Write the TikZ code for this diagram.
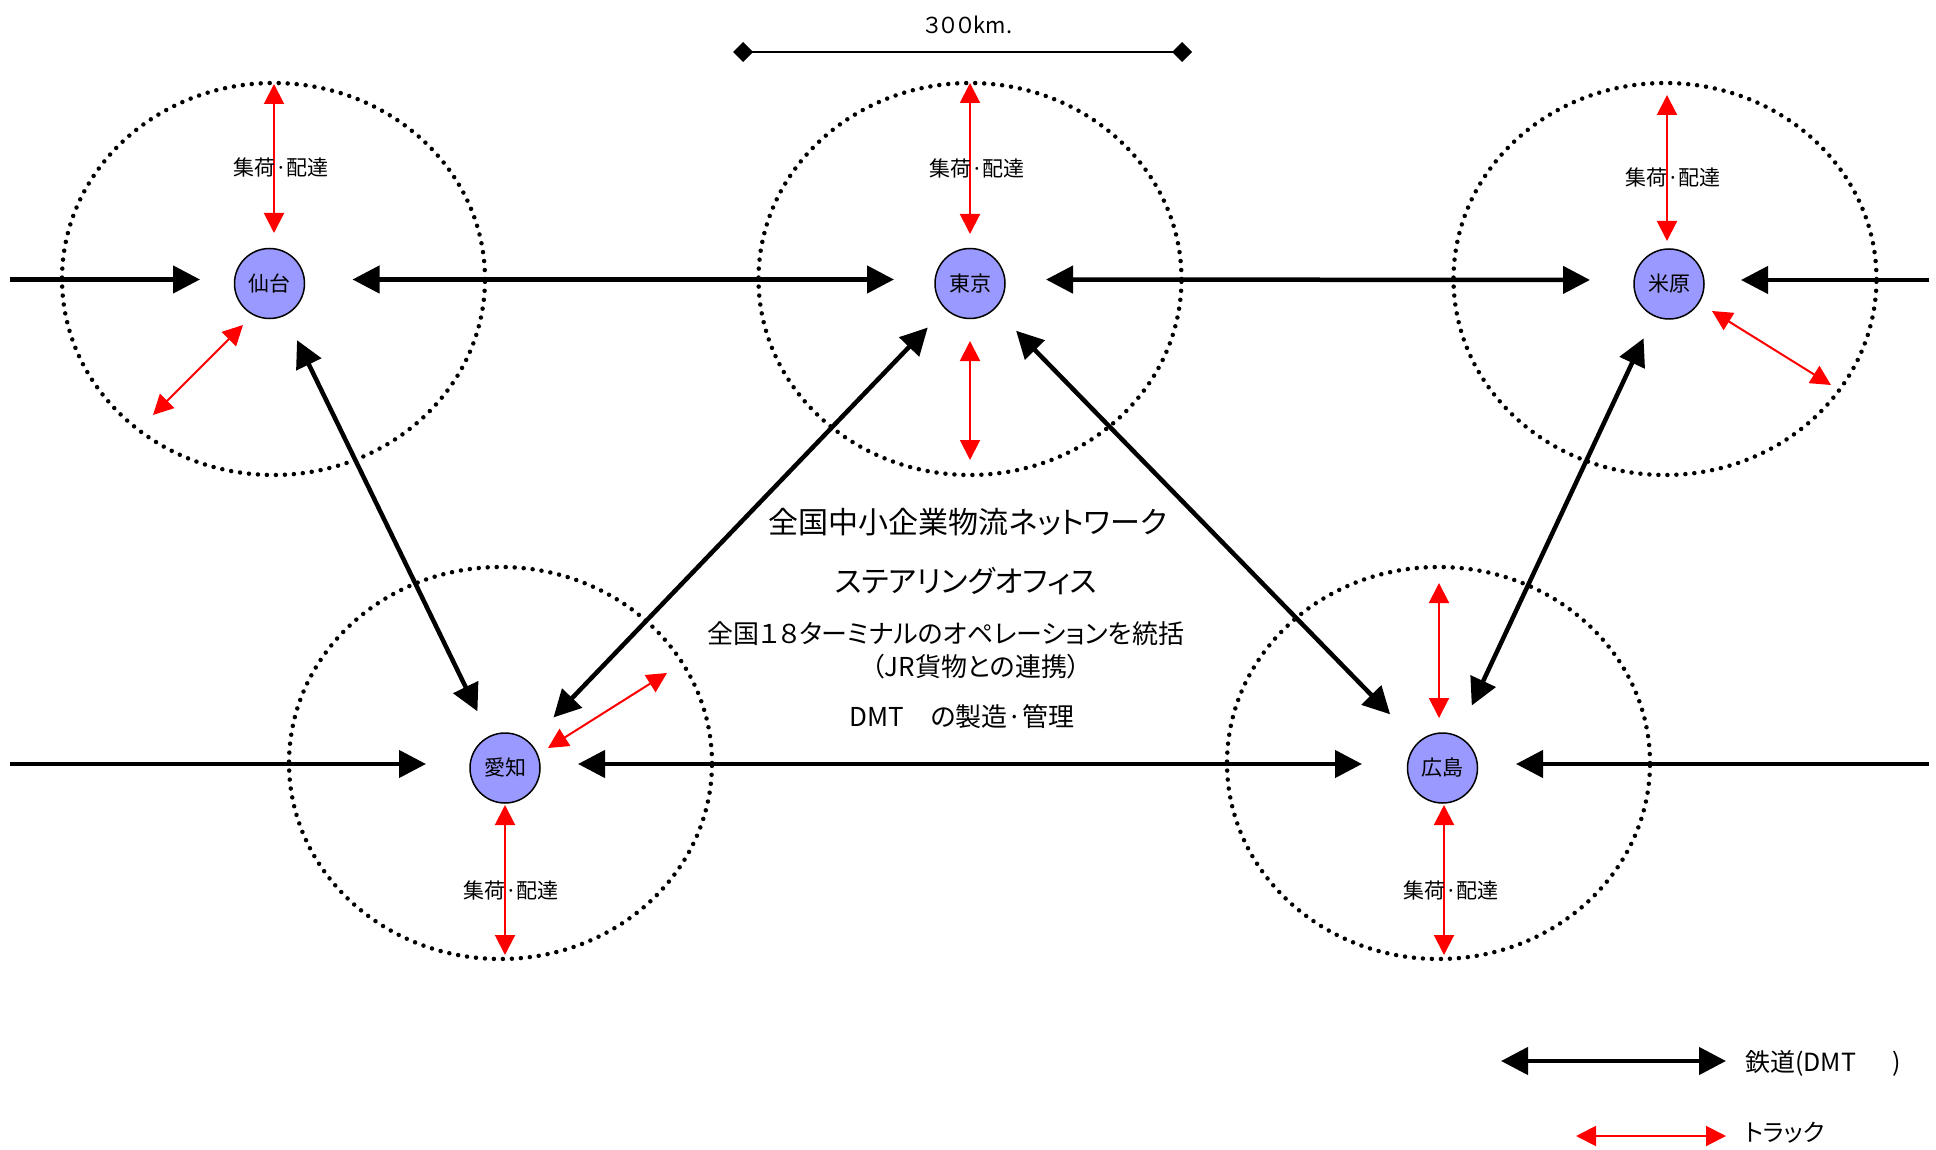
\documentclass[tikz,border=0pt]{standalone}
\usepackage{fontspec}
\setmainfont{Noto Sans CJK JP}[RawFeature=+palt]
\usetikzlibrary{arrows.meta}
\definecolor{nodefill}{RGB}{153,153,255}
\definecolor{truckred}{RGB}{255,0,0}
\begin{document}
\begin{tikzpicture}[x=1pt,y=-1pt,
  city/.style={circle,draw=black,line width=1.5pt,fill=nodefill,minimum size=70pt,inner sep=0pt,outer sep=0pt,font=\fontsize{21}{24}\selectfont},
  area/.style={draw=black,line width=4.5pt,dash pattern=on 0pt off 9pt,line cap=round},
  rail/.style={draw=black,line width=4.5pt,{Triangle[length=27pt,width=27pt]}-{Triangle[length=27pt,width=27pt]}},
  railin/.style={draw=black,line width=4.5pt,-{Triangle[length=27pt,width=27pt]}},
  lift/.style={transform canvas={yshift=4pt}},
  truck/.style={draw=truckred,line width=2pt,{Triangle[length=20pt,width=20pt]}-{Triangle[length=20pt,width=20pt]}},
  lbl/.style={inner sep=0pt,font=\fontsize{21}{24}\selectfont},
  big/.style={inner sep=0pt,font=\fontsize{30}{34}\selectfont},
  mid/.style={inner sep=0pt,font=\fontsize{26}{30}\selectfont},
]
\useasboundingbox[fill=white] (0,0) rectangle (1936,1150);

% service areas
\draw[area] (273.5,279) ellipse [x radius=211.5pt, y radius=196pt];
\draw[area] (970,279) ellipse [x radius=211.5pt, y radius=196pt];
\draw[area] (1665,279) ellipse [x radius=211.5pt, y radius=196pt];
\draw[area] (500.5,763) ellipse [x radius=211.5pt, y radius=196pt];
\draw[area] (1438.5,763) ellipse [x radius=211.5pt, y radius=196pt];

% cities
\node[city] (S) at (269.5,283.5) {仙台};
\node[city] (T) at (970,283.5) {東京};
\node[city] (M) at (1669,284) {米原};
\node[city] (A) at (505,768) {愛知};
\node[city] (H) at (1442.5,768) {広島};

% rail (DMT)
\coordinate (inS) at (10,283.5);
\coordinate (inM) at (1929,284);
\coordinate (inA) at (10,768);
\coordinate (inH) at (1929,768);
\draw[railin,lift,shorten >=34.5pt] (inS) -- (S);
\draw[railin,lift,shorten >=37pt] (inM) -- (M);
\draw[railin,lift,shorten >=44pt] (inA) -- (A);
\draw[railin,lift,shorten >=38.5pt] (inH) -- (H);
\draw[rail,lift,shorten <=48pt,shorten >=41pt] (S) -- (T);
\draw[rail,lift,shorten <=41pt,shorten >=44pt] (T) -- (M);
\draw[rail,lift,shorten <=38pt,shorten >=45.5pt] (A) -- (H);
\draw[rail,shorten <=28pt,shorten >=28pt] (S) -- (A);
\draw[rail,shorten <=26pt,shorten >=35pt] (T) -- (A);
\draw[rail,shorten <=31pt,shorten >=40pt] (T) -- (H);
\draw[rail,shorten <=25pt,shorten >=34pt] (M) -- (H);

% trucks
\coordinate (s1a) at (274,84);   \coordinate (s1b) at (274,233);
\coordinate (s2a) at (243,325);  \coordinate (s2b) at (153,415);
\coordinate (t1a) at (970,83);   \coordinate (t1b) at (970,234);
\coordinate (t2a) at (970,341);  \coordinate (t2b) at (970,460);
\coordinate (m1a) at (1667,95);  \coordinate (m1b) at (1667,241);
\coordinate (m2a) at (1712,311); \coordinate (m2b) at (1831,385);
\coordinate (a1a) at (548,748);  \coordinate (a1b) at (667,673);
\coordinate (a2a) at (505,805);  \coordinate (a2b) at (505,955);
\coordinate (h1a) at (1439,583); \coordinate (h1b) at (1439,718);
\coordinate (h2a) at (1444,805); \coordinate (h2b) at (1444,955);
\draw[truck] (s1a) -- (s1b);
\draw[truck] (s2a) -- (s2b);
\draw[truck] (t1a) -- (t1b);
\draw[truck] (t2a) -- (t2b);
\draw[truck] (m1a) -- (m1b);
\draw[truck] (m2a) -- (m2b);
\draw[truck] (a1a) -- (a1b);
\draw[truck] (a2a) -- (a2b);
\draw[truck] (h1a) -- (h1b);
\draw[truck] (h2a) -- (h2b);

% pickup/delivery labels
\node[lbl] (lS) at (281,167) {集荷·配達};
\node[lbl] (lT) at (977,168) {集荷·配達};
\node[lbl] (lM) at (1673,177) {集荷·配達};
\node[lbl] (lA) at (511,890) {集荷·配達};
\node[lbl] (lH) at (1451,890) {集荷·配達};

% central text
\node[big] (c1) at (968,522) {全国中小企業物流ネットワーク};
\node[big] (c2) at (966,581) {ステアリングオフィス};
\node[mid] (c3) at (946,634) {全国１８ターミナルのオペレーションを統括};
\node[mid] (c4) at (976,667) {（JR貨物との連携）};
\node[mid] (c5) at (962,717) {DMT　の製造·管理};

% scale bar
\node[inner sep=0pt,font=\fontsize{22}{26}\selectfont] (sc) at (968,25) {３００km.};
\coordinate (sb1) at (733,52);
\coordinate (sb2) at (1192,52);
\draw[line width=2pt,{Diamond[length=20pt,width=20pt]}-{Diamond[length=20pt,width=20pt]}] (sb1) -- (sb2);

% legend
\coordinate (lg1a) at (1501,1061); \coordinate (lg1b) at (1726,1061);
\coordinate (lg2a) at (1576,1136); \coordinate (lg2b) at (1726,1136);
\draw[rail] (lg1a) -- (lg1b);
\draw[truck] (lg2a) -- (lg2b);
\node[inner sep=0pt,anchor=west,font=\fontsize{25}{30}\selectfont] (lgt1) at (1745,1063) {鉄道(DMT　\ \ )};
\node[inner sep=0pt,anchor=west,font=\fontsize{24}{28}\selectfont] (lgt2) at (1745,1133) {トラック};
\end{tikzpicture}
\end{document}
